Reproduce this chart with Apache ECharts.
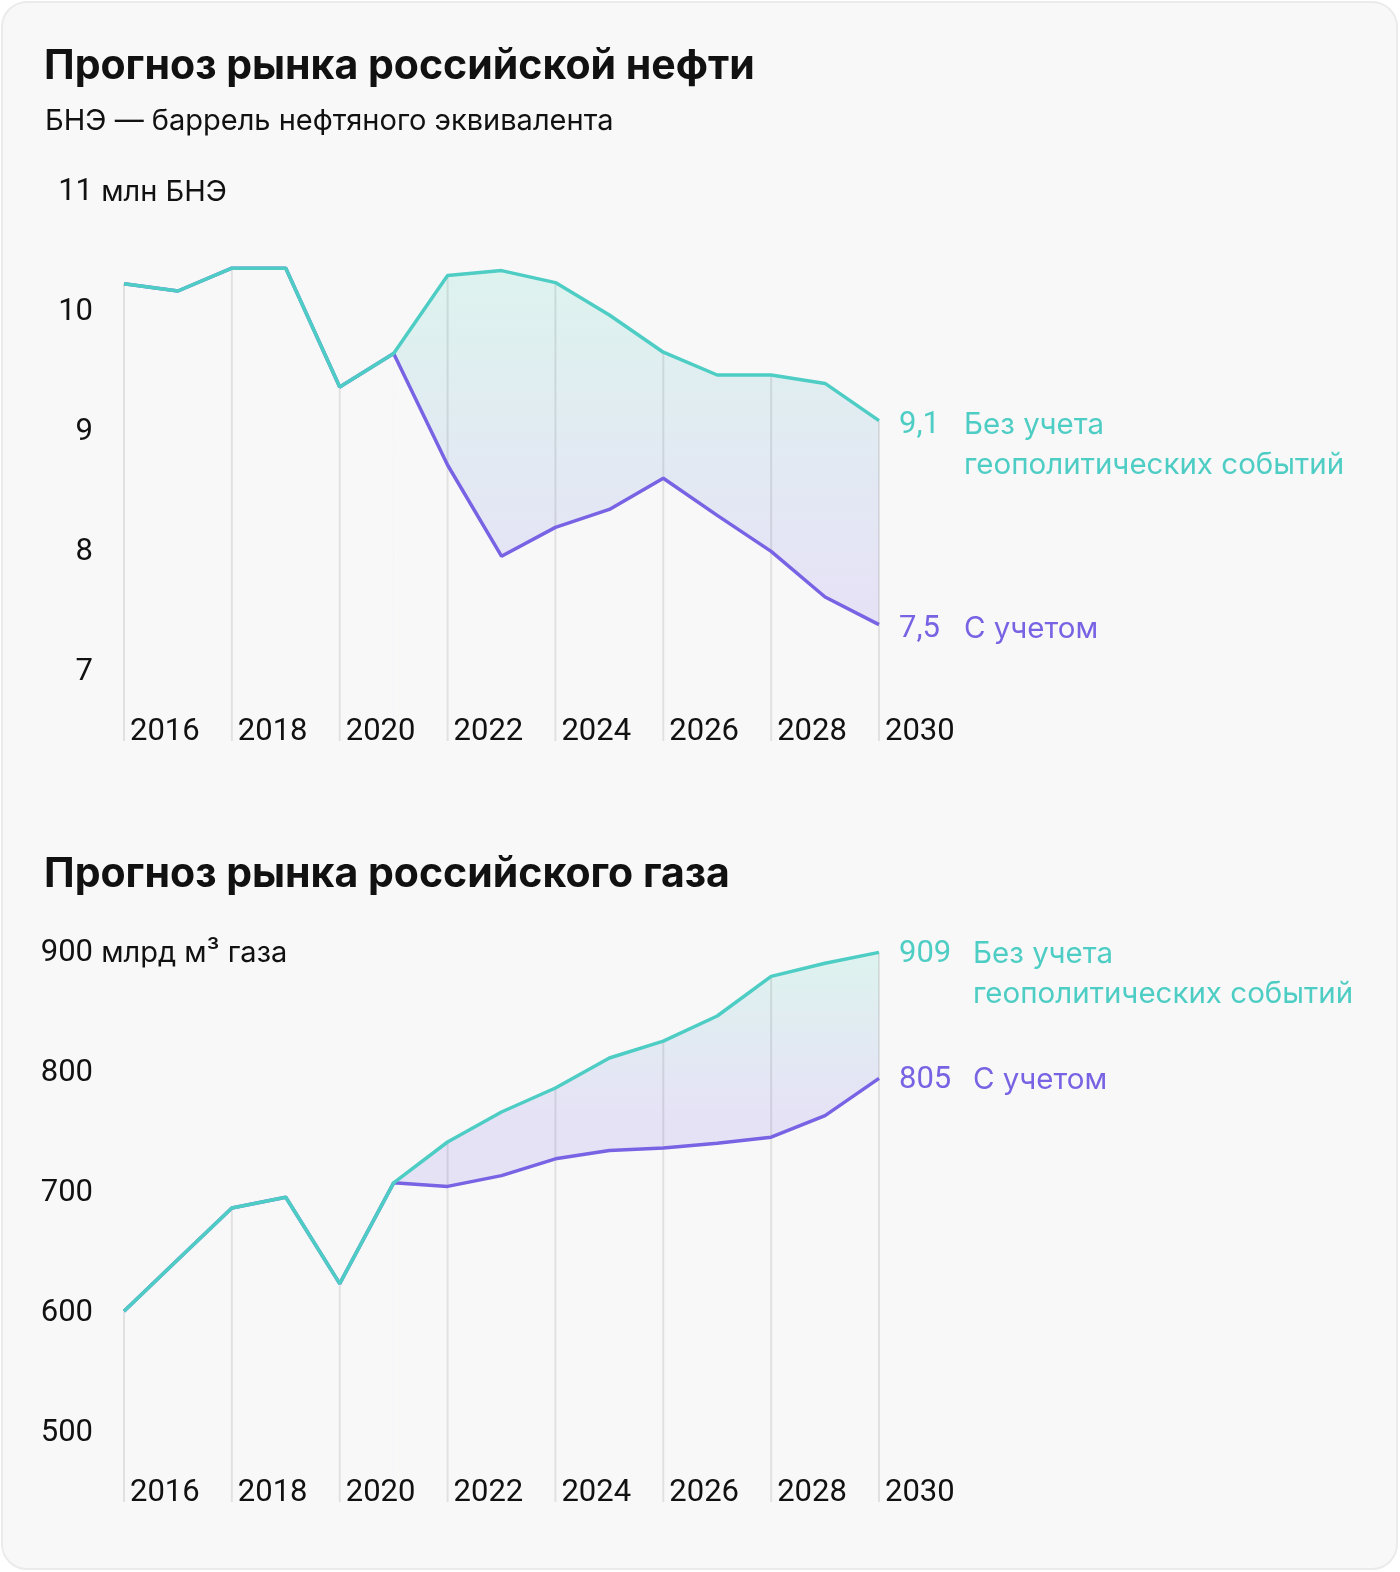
<!DOCTYPE html>
<html><head><meta charset="utf-8">
<script src="https://cdn.jsdelivr.net/npm/echarts@6/dist/echarts.min.js"></script>
<style>
html,body{margin:0;padding:0;background:#ffffff;}
#card{position:absolute;left:1px;top:1px;width:1397px;height:1569px;background:#f8f8f8;border:2px solid #ebebeb;border-radius:26px;box-sizing:border-box;}
#chart{position:absolute;left:0;top:0;width:1400px;height:1572px;}
</style></head><body>
<div id="card"></div><div id="chart"></div>
<script>
// ---- data ----
const years = [2016,2017,2018,2019,2020,2021,2022,2023,2024,2025,2026,2027,2028,2029,2030];
const yearTicks = [2016,2018,2020,2022,2024,2026,2028,2030];
const splitYear = 2021;

const oilTicks = [7,8,9,10,11];
const oilNoGeo = [10.21,10.15,10.34,10.34,9.35,9.63,10.28,10.32,10.22,9.95,9.64,9.45,9.45,9.38,9.07];
const oilGeo   = [10.21,10.15,10.34,10.34,9.35,9.63,8.70,7.94,8.18,8.33,8.59,8.28,7.98,7.60,7.37];
const oilEndLabels = ['9,1','7,5'];

const gasTicks = [500,600,700,800,900];
const gasNoGeo = [599,642,685,694,622,706,740,765,785,810,824,845,878,889,898];
const gasGeo   = [599,642,685,694,622,706,703,712,726,733,735,739,744,762,793];
const gasEndLabels = ['909','805'];

const seriesNames = ['Без учета геополитических событий','С учетом'];
const endTexts = [['Без учета','геополитических событий'],['С учетом']];
const titles = ['Прогноз рынка российской нефти','Прогноз рынка российского газа'];
const subtitle = 'БНЭ — баррель нефтяного эквивалента';
const oilUnit = ' млн БНЭ';
const gasUnit = ' млрд м³ газа';

// ---- style ----
const FONT = 'Inter';
const NUM = 'Roboto';
const NUMSIZE = 31;
const TXTSIZE = 29.5;
const TEAL = '#4ecdc4';
const PURPLE = '#7763e3';
const BG = '#f8f8f8';
const TEXT = '#111111';

const idx = years.indexOf(splitYear);
const pairs = arr => years.map((y,i)=>[y, arr[i]]);
const tail = arr => years.slice(idx).map((y,i)=>[y, arr[idx+i]]);

function buildCharts(gi, noGeo, geo, yMin, yMax, ticks, unit, endLabels, valW, gradStop, dy){
  const xAxis = {
    type:'value', gridIndex:gi, min:2016, max:2030, z:10,
    axisLine:{show:false}, axisTick:{show:false}, splitLine:{show:false},
    axisLabel:{
      customValues: yearTicks, inside:true, margin:-7, align:'left', hideOverlap:false,
      padding:[0,0,0,6], color:TEXT, fontFamily:NUM, fontSize:NUMSIZE,
      formatter: v => String(v)
    }
  };
  const top = ticks[ticks.length-1];
  const yAxis = {
    type:'value', gridIndex:gi, min:yMin, max:yMax, z:10,
    axisLine:{show:false}, axisTick:{show:false}, splitLine:{show:false},
    axisLabel:{
      customValues: ticks, margin:31, align:'right', color:TEXT, hideOverlap:false,
      fontFamily:NUM, fontSize:NUMSIZE, padding:[6,0,0,0],
      formatter: v => v === top ? '{n|' + v + '}{u|' + unit + '}' : '{n|' + v + '}',
      rich:{
        n:{fontFamily:NUM, fontSize:NUMSIZE, color:TEXT, align:'left'},
        u:{fontFamily:FONT, fontSize:29, color:TEXT, align:'left', width:0}
      }
    }
  };
  const mkEnd = (color, txt, lines, off) => ({
    show:true, distance:20, color:color, fontFamily:FONT, fontSize:TXTSIZE,
    offset:[0, off],
    formatter: () => lines.length>1
      ? '{v|' + txt + '}{t|' + lines[0] + '}\n{v| }{t|' + lines[1] + '}'
      : '{v|' + txt + '}{t|' + lines[0] + '}',
    rich:{
      v:{width:valW, color:color, fontFamily:NUM, fontSize:NUMSIZE, lineHeight:40},
      t:{color:color, fontFamily:FONT, fontSize:TXTSIZE, lineHeight:40}
    }
  });
  const series = [
    { // band fill (upper)
      type:'line', xAxisIndex:gi, yAxisIndex:gi, data: tail(noGeo), symbol:'none', silent:true,
      lineStyle:{width:0}, z:1,
      areaStyle:{origin:'start', opacity:1, color:new echarts.graphic.LinearGradient(0,0,0,1,[
        {offset:0,color:'#ddf3ee'},{offset:gradStop,color:'#e6e2f6'},{offset:1,color:'#e6e2f6'}])}
    },
    { // mask below lower line
      type:'line', xAxisIndex:gi, yAxisIndex:gi, data: tail(geo), symbol:'none', silent:true,
      lineStyle:{width:0}, z:2, areaStyle:{origin:'start', opacity:1, color:BG}
    },
    { // drop lines
      type:'custom', xAxisIndex:gi, yAxisIndex:gi, z:3, silent:true,
      data: yearTicks.map(y => [y, noGeo[years.indexOf(y)]]),
      renderItem:(params, api) => {
        const p1 = api.coord([api.value(0), api.value(1)]);
        const p2 = api.coord([api.value(0), yMin]);
        return {type:'line', shape:{x1:p1[0],y1:p1[1],x2:p2[0],y2:p2[1]},
          style:{stroke:'rgba(0,0,0,0.09)', lineWidth:2}};
      }
    },
    {
      name:seriesNames[1], type:'line', xAxisIndex:gi, yAxisIndex:gi, data: pairs(geo),
      symbol:'none', z:4, lineStyle:{color:PURPLE, width:3.5}, itemStyle:{color:PURPLE},
      endLabel: mkEnd(PURPLE, endLabels[1], endTexts[1], dy)
    },
    {
      name:seriesNames[0], type:'line', xAxisIndex:gi, yAxisIndex:gi, data: pairs(noGeo),
      symbol:'none', z:5, lineStyle:{color:TEAL, width:3.5}, itemStyle:{color:TEAL},
      endLabel: mkEnd(TEAL, endLabels[0], endTexts[0], 20 + dy)
    }
  ];
  return {xAxis, yAxis, series};
}

const oil = buildCharts(0, oilNoGeo, oilGeo, 6.4, 11, oilTicks, oilUnit, oilEndLabels, 65, 0.72, 5);
const gas = buildCharts(1, gasNoGeo, gasGeo, 440, 900, gasTicks, gasUnit, gasEndLabels, 74, 0.3, 2);

const chart = echarts.init(document.getElementById('chart'), null, {renderer:'canvas'});
chart.setOption({
  backgroundColor:'transparent',
  animation:false,
  title:[
    {text:titles[0], left:39, top:41, textStyle:{fontFamily:FONT, fontSize:41, fontWeight:700, color:TEXT}},
    {text:subtitle, left:40, top:102, textStyle:{fontFamily:FONT, fontSize:29, fontWeight:400, color:TEXT}},
    {text:titles[1], left:39, top:849, textStyle:{fontFamily:FONT, fontSize:41, fontWeight:700, color:TEXT}}
  ],
  grid:[
    {left:124, right:521, top:189, height:552, outerBoundsMode:'none', containLabel:false},
    {left:124, right:521, top:950, height:552, outerBoundsMode:'none', containLabel:false}
  ],
  xAxis:[oil.xAxis, gas.xAxis],
  yAxis:[oil.yAxis, gas.yAxis],
  series:[...oil.series, ...gas.series]
});
</script>
</body></html>
